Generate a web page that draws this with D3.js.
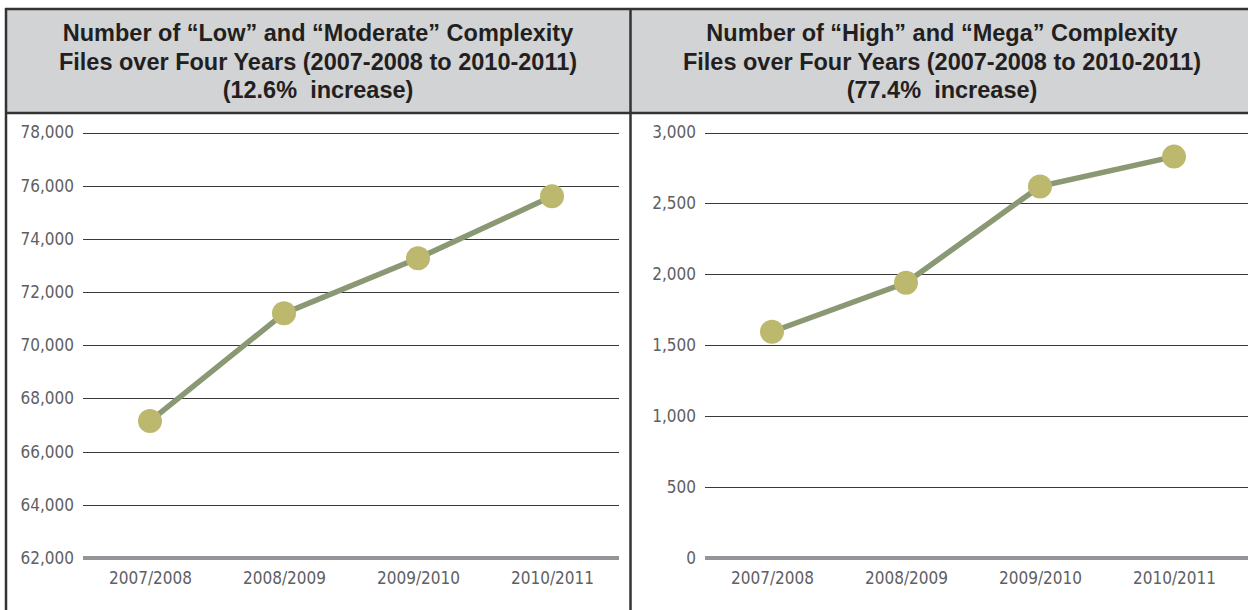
<!DOCTYPE html>
<html>
<head>
<meta charset="utf-8">
<script src="https://d3js.org/d3.v7.min.js"></script>
<style>
  html, body { margin: 0; padding: 0; background: #fff; }
  svg { display: block; }
  .title { font-family: "Liberation Sans Narrow", "Liberation Sans", sans-serif; font-weight: bold; font-size: 23.5px; fill: #231f20; white-space: pre; }
  .tick text { font-family: "Liberation Sans Narrow", "DejaVu Sans Condensed", sans-serif; font-size: 17px; fill: #5f6062; }
</style>
</head>
<body>
<svg width="1248" height="610"></svg>
<script>
// data
var years = ["2007/2008", "2008/2009", "2009/2010", "2010/2011"];
var lowModerate = [67150, 71200, 73270, 75600];
var highMega = [1595, 1940, 2620, 2830];
var lowTicks = [62000, 64000, 66000, 68000, 70000, 72000, 74000, 76000, 78000];
var highTicks = [0, 500, 1000, 1500, 2000, 2500, 3000];
var lowTitle = ["Number of \u201cLow\u201d and \u201cModerate\u201d Complexity", "Files over Four Years (2007-2008 to 2010-2011)", "(12.6%  increase)"];
var highTitle = ["Number of \u201cHigh\u201d and \u201cMega\u201d Complexity", "Files over Four Years (2007-2008 to 2010-2011)", "(77.4%  increase)"];

var svg = d3.select("svg");
var fmt = d3.format(",");

// header band + frame
svg.append("rect").attr("x", 6).attr("y", 9).attr("width", 1248).attr("height", 104).attr("fill", "#d1d3d4");
svg.append("line").attr("x1", 5).attr("x2", 1248).attr("y1", 9).attr("y2", 9).attr("stroke", "#333").attr("stroke-width", 2.5);
svg.append("line").attr("x1", 5).attr("x2", 1248).attr("y1", 113).attr("y2", 113).attr("stroke", "#333").attr("stroke-width", 2.5);
svg.append("line").attr("x1", 6).attr("x2", 6).attr("y1", 8).attr("y2", 610).attr("stroke", "#333").attr("stroke-width", 2.5);
svg.append("line").attr("x1", 630.5).attr("x2", 630.5).attr("y1", 8).attr("y2", 610).attr("stroke", "#333").attr("stroke-width", 2.5);

function panel(opt) {
  var g = svg.append("g");

  g.append("text").attr("class", "title")
    .attr("text-anchor", "middle")
    .selectAll("tspan").data(opt.title).enter().append("tspan")
      .attr("x", opt.titleX)
      .attr("y", function(d, i) { return 41 + i * 28.5; })
      .text(function(d) { return d; });

  var x = d3.scalePoint().domain(years).range([opt.x0, opt.x1]).padding(0.5);
  var y = d3.scaleLinear().domain([opt.ticks[0], opt.ticks[opt.ticks.length - 1]]).range([558, 132.5]);

  // gridlines
  g.append("g")
    .selectAll("line").data(opt.ticks.slice(1)).enter().append("line")
      .attr("x1", opt.x0).attr("x2", opt.gridEnd)
      .attr("y1", function(d) { return Math.round(y(d)) + 0.5; })
      .attr("y2", function(d) { return Math.round(y(d)) + 0.5; })
      .attr("stroke", "#3a3a3a").attr("stroke-width", 1);

  // baseline
  g.append("line")
    .attr("x1", opt.x0).attr("x2", opt.gridEnd)
    .attr("y1", y(opt.ticks[0])).attr("y2", y(opt.ticks[0]))
    .attr("stroke", "#939598").attr("stroke-width", 4);

  // y axis labels
  g.append("g")
    .attr("transform", "translate(" + opt.x0 + ",0)")
    .call(d3.axisLeft(y).tickValues(opt.ticks).tickFormat(fmt).tickSize(0).tickPadding(9))
    .call(function(a) { a.select(".domain").remove(); });

  // x axis labels
  g.append("g")
    .attr("transform", "translate(0,572)")
    .call(d3.axisBottom(x).tickSize(0).tickPadding(0))
    .call(function(a) { a.select(".domain").remove(); a.selectAll("text").attr("dy", "0.71em"); });

  var pts = years.map(function(d, i) { return {k: d, v: opt.values[i]}; });

  g.append("path")
    .datum(pts)
    .attr("fill", "none")
    .attr("stroke", "#8a9873")
    .attr("stroke-width", 5.5)
    .attr("d", d3.line().x(function(d) { return x(d.k); }).y(function(d) { return y(d.v); }));

  g.selectAll("circle").data(pts).enter().append("circle")
    .attr("cx", function(d) { return x(d.k); })
    .attr("cy", function(d) { return y(d.v); })
    .attr("r", 12)
    .attr("fill", "#bcb86e");
}

panel({title: lowTitle, titleX: 318, values: lowModerate, ticks: lowTicks, x0: 83, x1: 619, gridEnd: 619});
panel({title: highTitle, titleX: 942, values: highMega, ticks: highTicks, x0: 705, x1: 1241, gridEnd: 1248});
</script>
</body>
</html>
